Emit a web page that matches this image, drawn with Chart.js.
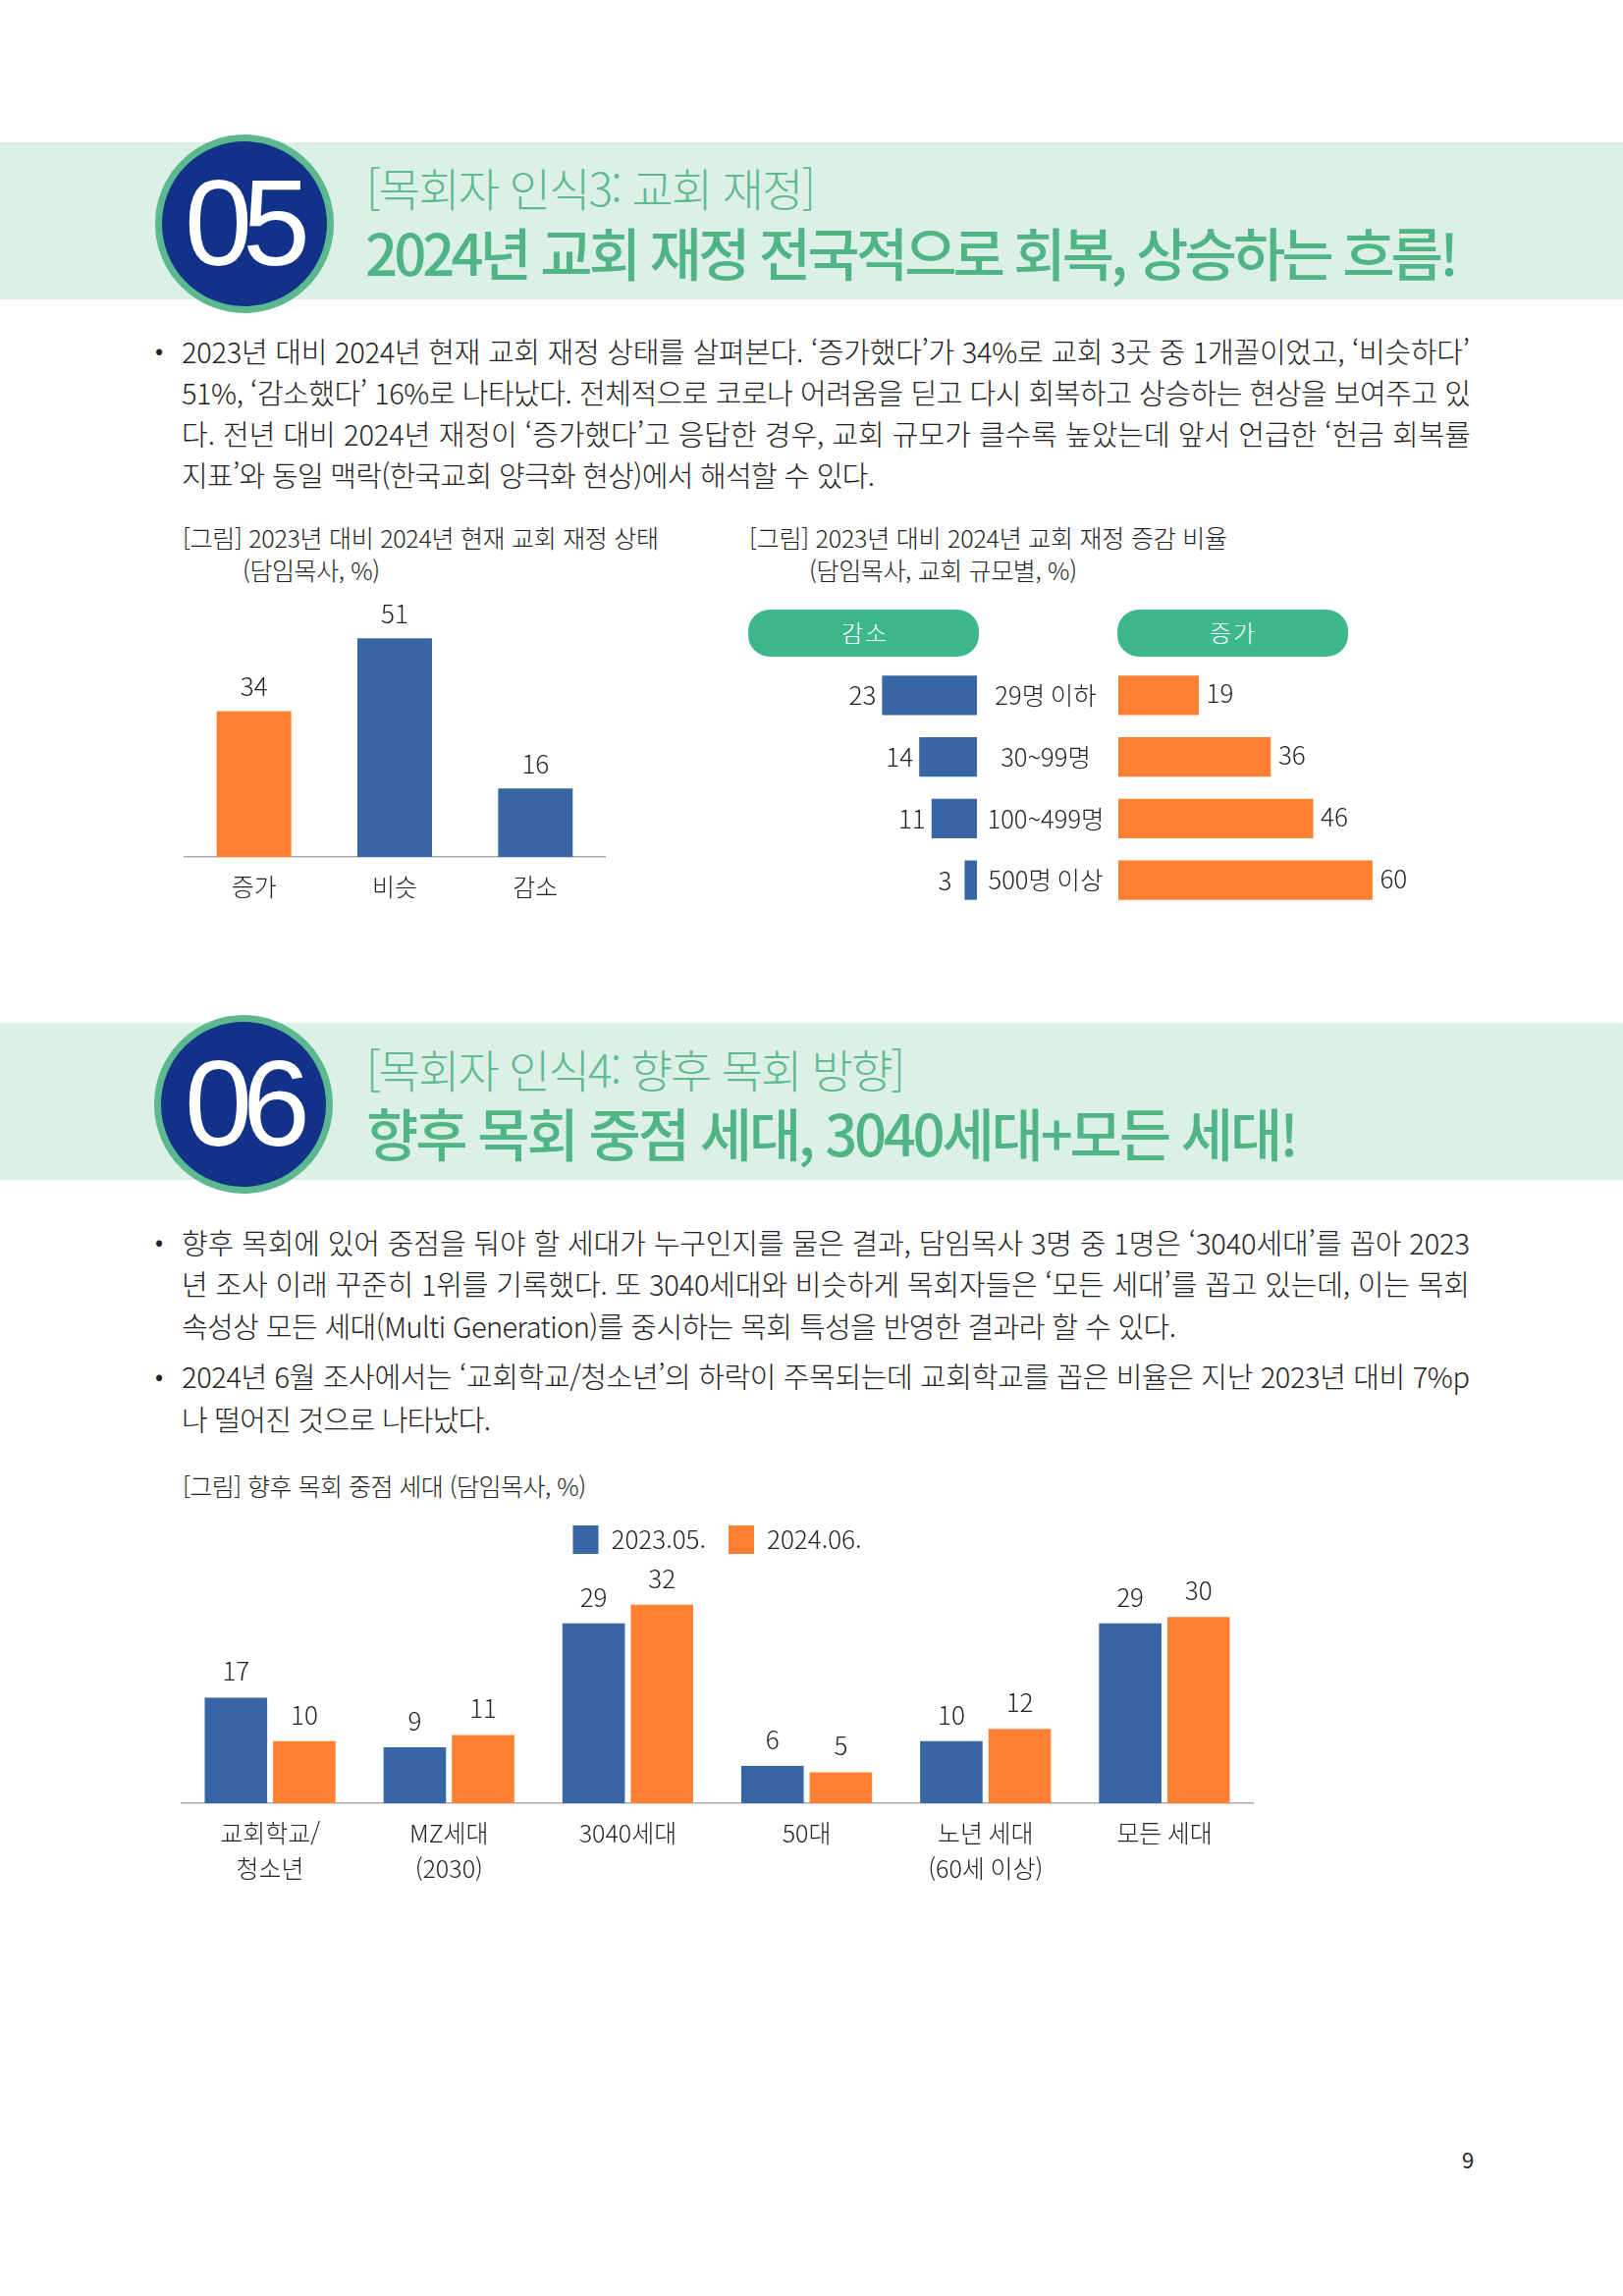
<!DOCTYPE html>
<html lang="ko">
<head>
<meta charset="utf-8">
<title>목회자 인식</title>
<script src="https://cdn.jsdelivr.net/npm/chart.js@4"></script>
<style>
html,body{margin:0;padding:0;background:#fff}
#page{position:relative;width:1653px;height:2339px;overflow:hidden;background:#fff;font-family:"Noto Sans CJK KR","Noto Sans",sans-serif;color:#222}
.band{position:absolute;left:0;width:1653px;height:160px;background:#DDF0E6}
.disc{position:absolute;width:168px;height:168px;border:7px solid #5CB88E;border-radius:50%;background:#12328A}
.t{position:absolute;white-space:nowrap}
.pill{position:absolute;height:48px;width:235px;border-radius:22px;background:#3DB88A}
canvas{position:absolute;display:block}
</style>
</head>
<body>
<div id="page">
  <div class="band" style="top:145px"></div>
  <div class="band" style="top:1042px"></div>
  <div class="disc" style="left:158px;top:137px"></div>
  <div class="disc" style="left:157px;top:1034px"></div>
  <div class="pill" style="left:762px;top:621px"></div>
  <div class="pill" style="left:1138px;top:621px"></div>
  <canvas id="c1" width="430" height="329" style="left:187px;top:611px"></canvas>
  <canvas id="c2a" width="294" height="251" style="left:701px;top:677px"></canvas>
  <canvas id="c2b" width="441" height="251" style="left:1000px;top:677px"></canvas>
  <canvas id="c3" width="1093" height="390" style="left:184px;top:1531px"></canvas>
</div>
<script>
// ---- chart data ----
const financeLabels = ['증가', '비슷', '감소'];
const financeValues = [34, 51, 16];
const sizeLabels = ['29명 이하', '30~99명', '100~499명', '500명 이상'];
const sizeDecrease = [23, 14, 11, 3];
const sizeIncrease = [19, 36, 46, 60];
const generationLabels = [['교회학교/', '청소년'], ['MZ세대', '(2030)'], '3040세대', '50대', ['노년 세대', '(60세 이상)'], '모든 세대'];
const seriesNames = ['2023.05.', '2024.06.'];
const values2023 = [17, 9, 29, 6, 10, 29];
const values2024 = [10, 11, 32, 5, 12, 30];

// ---- page text ----
const BODY = '"Noto Sans CJK KR"', TXT = '#222', GREEN = '#5DBB90', GREEN2 = '#4FB587';
const textRows = [
  // text, left, centre y, target width, size, colour, weight
  ['[목회자 인식3: 교회 재정]', 373, 191, 458, 46, GREEN, 300],
  ['2024년 교회 재정 전국적으로 회복, 상승하는 흐름!', 372, 256, 1114, 58, GREEN2, 500],
  ['[목회자 인식4: 향후 목회 방향]', 373, 1089, 549, 46, GREEN, 300],
  ['향후 목회 중점 세대, 3040세대+모든 세대!', 373, 1153, 950, 58, GREEN2, 500],
  ['2023년 대비 2024년 현재 교회 재정 상태를 살펴본다. ‘증가했다’가 34%로 교회 3곳 중 1개꼴이었고, ‘비슷하다’', 185, 357, 1312, 29, TXT, 300],
  ['51%, ‘감소했다’ 16%로 나타났다. 전체적으로 코로나 어려움을 딛고 다시 회복하고 상승하는 현상을 보여주고 있', 185, 399, 1313, 29, TXT, 300],
  ['다. 전년 대비 2024년 재정이 ‘증가했다’고 응답한 경우, 교회 규모가 클수록 높았는데 앞서 언급한 ‘헌금 회복률', 185, 441, 1313, 29, TXT, 300],
  ['지표’와 동일 맥락(한국교회 양극화 현상)에서 해석할 수 있다.', 185, 483, 706, 29, TXT, 300],
  ['향후 목회에 있어 중점을 둬야 할 세대가 누구인지를 물은 결과, 담임목사 3명 중 1명은 ‘3040세대’를 꼽아 2023', 185, 1265, 1312, 29, TXT, 300],
  ['년 조사 이래 꾸준히 1위를 기록했다. 또 3040세대와 비슷하게 목회자들은 ‘모든 세대’를 꼽고 있는데, 이는 목회', 185, 1307, 1312, 29, TXT, 300],
  ['속성상 모든 세대(Multi Generation)를 중시하는 목회 특성을 반영한 결과라 할 수 있다.', 185, 1350, 1013, 29, TXT, 300],
  ['2024년 6월 조사에서는 ‘교회학교/청소년’의 하락이 주목되는데 교회학교를 꼽은 비율은 지난 2023년 대비 7%p', 185, 1401, 1312, 29, TXT, 300],
  ['나 떨어진 것으로 나타났다.', 185, 1445, 315, 29, TXT, 300],
  ['•', 158, 356, 0, 24, TXT, 400],
  ['•', 158, 1264, 0, 24, TXT, 400],
  ['•', 158, 1401, 0, 24, TXT, 400],
  ['[그림] 2023년 대비 2024년 현재 교회 재정 상태', 186, 547, 485, 25, TXT, 300],
  ['(담임목사, %)', 247, 580, 140, 25, TXT, 300],
  ['[그림] 2023년 대비 2024년 교회 재정 증감 비율', 763, 547, 487, 25, TXT, 300],
  ['(담임목사, 교회 규모별, %)', 824, 580, 273, 25, TXT, 300],
  ['[그림] 향후 목회 중점 세대 (담임목사, %)', 186, 1513, 411, 25, TXT, 300],
  ['감소', 857, 644, 46, 24, '#fff', 300],
  ['증가', 1232, 644, 46, 24, '#fff', 300],
  ['9', 1489, 2199, 0, 22, TXT, 400]
];
const page = document.getElementById('page');
function addText(text, x, cy, width, size, color, weight, family) {
  const el = document.createElement('div');
  el.className = 't';
  el.textContent = text;
  el.style.cssText = `left:${x}px;top:${cy - size * 0.56}px;line-height:${size * 1.12}px;font-size:${size}px;color:${color};font-weight:${weight};font-family:${family || BODY}`;
  page.appendChild(el);
  if (width) {
    const w = el.getBoundingClientRect().width;
    el.style.letterSpacing = ((width - w) / (text.length - 1)) + 'px';
  }
}
textRows.forEach(r => addText(...r));
addText('05', 188, 227, 128, 124, '#fff', 400, '"Liberation Sans"');
addText('06', 188, 1124, 128, 124, '#fff', 400, '"Liberation Sans"');

// ---- charts ----
const FONT = { family: BODY, size: 25, weight: '300' };
const BLUE = '#3865A3', ORANGE = '#FF8033', AXIS = '#ABABAB';
Chart.defaults.animation = false;
Chart.defaults.responsive = false;
Chart.defaults.devicePixelRatio = 1;
Chart.defaults.color = TXT;
Chart.defaults.font = FONT;
Chart.defaults.plugins.tooltip.enabled = false;
Chart.defaults.layout.padding = 0;

// value labels drawn from each bar element's resolved position
const valueLabels = (offsetX, offsetY) => ({
  id: 'valueLabels',
  afterDatasetsDraw(chart) {
    const { ctx } = chart;
    ctx.save();
    ctx.font = `300 26px ${BODY}`;
    ctx.fillStyle = TXT;
    ctx.textAlign = 'center';
    ctx.textBaseline = 'middle';
    chart.data.datasets.forEach((ds, i) => {
      chart.getDatasetMeta(i).data.forEach((bar, j) => {
        ctx.fillText(ds.data[j], bar.x + offsetX, bar.y + offsetY);
      });
    });
    ctx.restore();
  }
});
const fixedHeight = h => ({ afterFit(s) { s.height = h; } });
const fixedWidth = w => ({ afterFit(s) { s.width = w; s.paddingTop = 0; s.paddingBottom = 0; } });

new Chart(document.getElementById('c1'), {
  type: 'bar',
  data: { labels: financeLabels, datasets: [{ data: financeValues, backgroundColor: [ORANGE, BLUE, BLUE], barPercentage: 0.53, categoryPercentage: 1 }] },
  options: {
    plugins: { legend: { display: false } },
    scales: {
      y: { display: false, min: 0, max: 60 },
      x: { grid: { display: false, drawTicks: false }, border: { color: AXIS, width: 1.5 }, ticks: { padding: 12, font: { ...FONT, lineHeight: 36 / 25 } }, ...fixedHeight(67) }
    }
  },
  plugins: [valueLabels(0, -25)]
});

new Chart(document.getElementById('c2a'), {
  type: 'bar',
  data: { labels: sizeLabels, datasets: [{ data: sizeDecrease, backgroundColor: BLUE, barPercentage: 0.64, categoryPercentage: 1 }] },
  options: {
    indexAxis: 'y',
    plugins: { legend: { display: false } },
    scales: {
      x: { display: false, reverse: true, min: 0, max: 70 },
      y: { display: false }
    }
  },
  plugins: [valueLabels(-20, 0)]
});

new Chart(document.getElementById('c2b'), {
  type: 'bar',
  data: { labels: sizeLabels, datasets: [{ data: sizeIncrease, backgroundColor: ORANGE, barPercentage: 0.64, categoryPercentage: 1 }] },
  options: {
    indexAxis: 'y',
    plugins: { legend: { display: false } },
    scales: {
      x: { display: false, min: 0, max: 70 },
      y: { grid: { display: false, drawTicks: false }, border: { display: false }, ticks: { crossAlign: 'center', padding: 14.5, font: { ...FONT, size: 25.5 } }, ...fixedWidth(139) }
    }
  },
  plugins: [valueLabels(21.5, -2)]
});

new Chart(document.getElementById('c3'), {
  type: 'bar',
  data: {
    labels: generationLabels,
    datasets: [
      { label: seriesNames[0], data: values2023, backgroundColor: BLUE, barPercentage: 0.914, categoryPercentage: 0.764 },
      { label: seriesNames[1], data: values2024, backgroundColor: ORANGE, barPercentage: 0.914, categoryPercentage: 0.764 }
    ]
  },
  options: {
    plugins: { legend: { position: 'top', labels: { boxWidth: 26, boxHeight: 29, padding: 23, font: { ...FONT, size: 26 }, color: TXT } } },
    scales: {
      y: { display: false, min: 0, max: 38.6 },
      x: { grid: { display: false, drawTicks: false }, border: { color: AXIS, width: 1.5 }, ticks: { padding: 12, maxRotation: 0, autoSkip: false, font: { ...FONT, lineHeight: 36 / 25 } }, ...fixedHeight(84) }
    }
  },
  plugins: [valueLabels(0, -27)]
});
</script>
</body>
</html>
